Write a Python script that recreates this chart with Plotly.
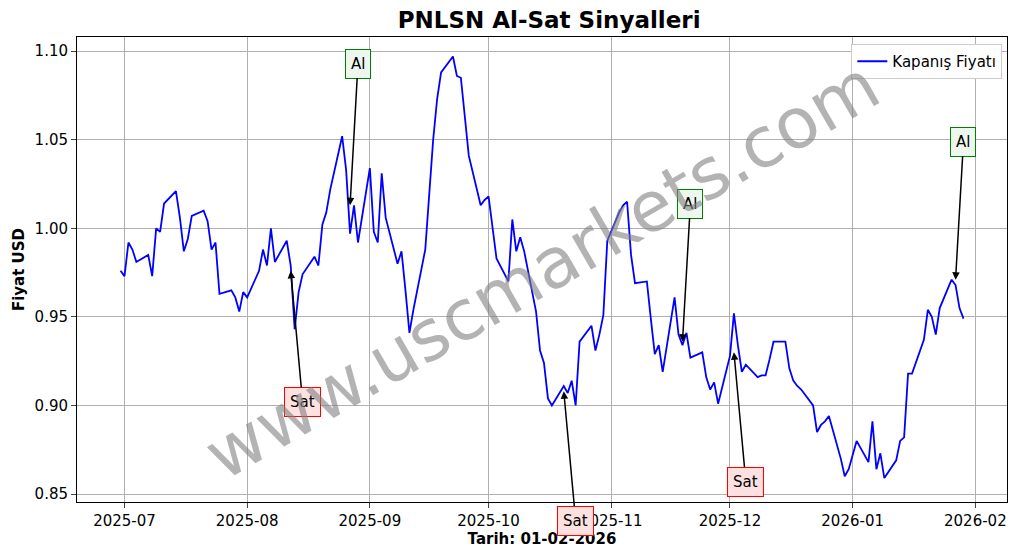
import pandas as pd
import plotly.graph_objects as go

values = [
 .976,.973,.992,.988,.981, .985,.973,1.000,.998,1.014, 1.021,1.006,.987,.994,1.007,
 1.010,1.004,.988,.992,.963, .965,.961,.953,.964,.961, .976,.988,.979,1.000,.981,
 .993,.979,.943,.964,.974, .984,.979,1.002,1.009,1.022, 1.052,1.033,.997,1.013,.992,
 1.034,.998,.992,1.031,1.006, .980,.987,.965,.941,.954, .988,1.019,1.050,1.073,1.088,
 1.097,1.086,1.085,1.061,1.041, 1.013,1.016,1.018,.999,.983, .970,1.005,.987,.995,.987,
 .953,.931,.924,.904,.900, .911,.907,.914,.900,.936, .945,.931,.940,.951,.993,
 1.009,1.013,1.015,.985,.969, .970,.949,.929,.934,.919, .961,.940,.934,.941,.927,
 .930,.916,.909,.913,.901, .928,.952,.934,.919,.923, .916,.917,.917,.926,.936,
 .936,.921,.914,.911,.909, .900,.885,.889,.891,.894, .870,.860,.864,.872,.880,
 .868,.891,.864,.873,.859, .869,.880,.882,.918,.918, .937,.954,.950,.940,.955,
 .971,.968,.955,.949]
dates = pd.bdate_range("2025-06-30", periods=len(values))

sig_dates = ["2025-08-12", "2025-08-27", "2025-10-20", "2025-11-19", "2025-12-02", "2026-01-27"]
sig_vals = [0.976, 1.013, 0.908, 0.936, 0.930, 0.971]
sig_text = ["Sat", "Al", "Sat", "Al", "Sat", "Al"]
sig_text_dates = ["2025-08-15", "2025-08-29", "2025-10-23", "2025-11-21", "2025-12-05", "2026-01-29"]
sig_text_vals = [0.902, 1.093, 0.835, 1.014, 0.857, 1.049]

fig = go.Figure()
fig.add_trace(go.Scatter(x=dates, y=values, mode="lines", line=dict(color="blue", width=1.8),
                         name="Kapanış Fiyatı"))
for d, v, t, td, tv in zip(sig_dates, sig_vals, sig_text, sig_text_dates, sig_text_vals):
    buy = t == "Al"
    fig.add_annotation(x=d, y=v, ax=td, ay=tv, xref="x", yref="y", axref="x", ayref="y",
                       text=t, showarrow=True, arrowhead=2, arrowsize=1, arrowwidth=1.5,
                       arrowcolor="black", font=dict(size=15, color="black"),
                       bgcolor="#eef7ee" if buy else "#fde0e0",
                       bordercolor="green" if buy else "red", borderwidth=1, borderpad=5)
fig.add_annotation(x=0.5, y=0.5, xref="paper", yref="paper", text="www.uscmarkets.com",
                   showarrow=False, textangle=-30, font=dict(size=70, color="rgba(128,128,128,0.6)"))
fig.update_layout(
    width=1021, height=554, autosize=False, margin=dict(l=69, r=22, t=29, b=60, autoexpand=False),
    paper_bgcolor="white", plot_bgcolor="white",
    font=dict(family="DejaVu Sans", size=15, color="black"),
    title=dict(text="<b>PNLSN Al-Sat Sinyalleri</b>", x=0.53, y=0.993, yanchor="top", font=dict(size=23)),
    showlegend=True,
    legend=dict(x=0.995, y=0.985, xanchor="right", yanchor="top", bordercolor="#ccc", borderwidth=1,
                font=dict(size=15)),
    xaxis=dict(title=dict(text="<b>Tarih: 01-02-2026</b>", standoff=4, font=dict(size=15)),
               automargin=False,
               range=["2025-06-19", "2026-02-09"], tickvals=["2025-07-01","2025-08-01","2025-09-01","2025-10-01","2025-11-01","2025-12-01","2026-01-01","2026-02-01"],
               tickformat="%Y-%m", showgrid=True, gridcolor="#b0b0b0", showline=True, linecolor="black",
               mirror=True, ticks="outside", zeroline=False),
    yaxis=dict(title=dict(text="<b>Fiyat USD</b>", font=dict(size=15), standoff=6), range=[0.8455, 1.108],
               automargin=False,
               dtick=0.05, tickformat=".2f", showgrid=True, gridcolor="#b0b0b0", showline=True,
               linecolor="black", mirror=True, ticks="outside", zeroline=False),
)
fig.write_html("out.html")
